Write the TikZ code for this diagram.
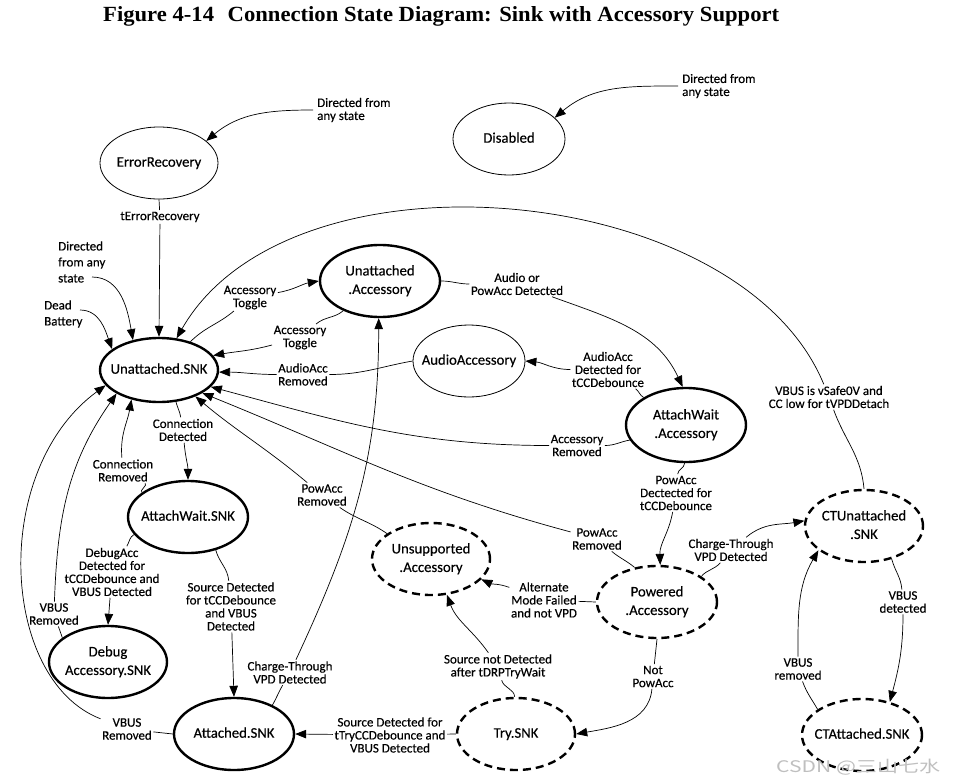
\documentclass[tikz,border=0pt]{standalone}
\usepackage{graphicx}
\usepackage{fontspec}
\setmainfont{Carlito}[FakeBold=0.35]
\newfontfamily\titlefnt{Liberation Serif}
\newfontfamily\cjkfnt{Noto Sans CJK SC}
\usetikzlibrary{shapes.geometric,arrows.meta}
\newcommand\nodefnt{\fontsize{14.7}{18.5}\selectfont}
\newcommand\lblfnt{\fontsize{13}{13}\selectfont}
\newcommand\nt[1]{\makebox[0pt]{\begin{tabular}{@{}c@{}}#1\end{tabular}}}
\tikzset{
  st/.style={ellipse, draw, line width=0.8pt, inner sep=0pt, font=\nodefnt},
  stk/.style={st, line width=2.4pt},
  std/.style={st, line width=2.4pt, dash pattern=on 8pt off 5pt},
  lbl/.style={font=\lblfnt, align=center, inner sep=1.5pt},
  note/.style={font=\lblfnt, align=left, inner ysep=0pt, inner xsep=4pt, anchor=west},
  arr/.style={line width=0.7pt, -{Triangle[length=11pt,width=8.5pt]}},
}
\begin{document}
\begin{tikzpicture}[x=1pt,y=1pt]
\useasboundingbox (0,0) rectangle (954,-782);
% title
\node[anchor=base west, inner sep=0pt] (title) at (103,-21) {\resizebox{676pt}{15pt}{\titlefnt\fontsize{19.6}{20}\selectfont\bfseries Figure 4-14\hspace{0.6em}Connection State Diagram: Sink with Accessory Support}};
% states
\node[st,  minimum width=118pt, minimum height=72pt] (ER)  at (159,-163) {\nt{ErrorRecovery}};
\node[st,  minimum width=112pt, minimum height=72pt] (DIS) at (509,-139) {\nt{Disabled}};
\node[stk, minimum width=118pt, minimum height=64pt] (US)  at (159,-370) {\nt{Unattached.SNK}};
\node[stk, minimum width=120pt, minimum height=72pt] (UA)  at (380,-281) {\nt{Unattached\\.Accessory}};
\node[st,  minimum width=112pt, minimum height=72pt] (AA)  at (469,-361) {\nt{AudioAccessory}};
\node[stk, minimum width=120pt, minimum height=74pt] (AWA) at (686,-425) {\nt{AttachWait\\.Accessory}};
\node[stk, minimum width=120pt, minimum height=72pt] (AWS) at (188,-517) {\nt{AttachWait.SNK}};
\node[stk, minimum width=118pt, minimum height=72pt] (DBG) at (108,-662) {\nt{Debug\\Accessory.SNK}};
\node[stk, minimum width=120pt, minimum height=72pt] (ATS) at (234,-734) {\nt{Attached.SNK}};
\node[std, minimum width=118pt, minimum height=72pt] (UNS) at (431,-559) {\nt{Unsupported\\.Accessory}};
\node[std, minimum width=120pt, minimum height=72pt] (PWR) at (657,-602) {\nt{Powered\\.Accessory}};
\node[std, minimum width=118pt, minimum height=72pt] (TRY) at (516,-734) {\nt{Try.SNK}};
\node[std, minimum width=118pt, minimum height=72pt] (CTU) at (864,-526) {\nt{CTUnattached\\.SNK}};
\node[std, minimum width=120pt, minimum height=72pt] (CTA) at (862,-735) {\nt{CTAttached.SNK}};
% notes
\node[note] (n1) at (313,-110) {Directed from\\any state};
\node[note] (n2) at (678,-86) {Directed from\\any state};
\node[note, font=\fontsize{13}{16}\selectfont] (n3) at (54,-262) {Directed\\from any\\state};
\node[note, font=\fontsize{13}{16}\selectfont] (n4) at (40,-314) {Dead\\Battery};
\coordinate (c3) at (92,-277);
\coordinate (c4) at (80,-310);
% labels
\node[lbl] (lTER) at (160,-217) {tErrorRecovery};
\node[lbl] (lAT1) at (250,-297.5) {Accessory\\Toggle};
\node[lbl] (lAT2) at (300,-337.5) {Accessory\\Toggle};
\node[lbl] (lAP)  at (517,-284) {Audio or\\PowAcc Detected};
\node[lbl] (lAD)  at (608,-369.5) {AudioAcc\\Detected for\\tCCDebounce};
\node[lbl] (lAR)  at (303,-374.5) {AudioAcc\\Removed};
\node[lbl] (lACR) at (577,-445.5) {Accessory\\Removed};
\node[lbl] (lPR2) at (597,-539) {PowAcc\\Removed};
\node[lbl] (lPR1) at (322,-495) {PowAcc\\Removed};
\node[lbl] (lPD)  at (676,-493) {PowAcc\\Dectected for\\tCCDebounce};
\node[lbl] (lCT2) at (731,-550) {Charge-Through\\VPD Detected};
\node[lbl] (lAM)  at (544,-600) {Alternate\\Mode Failed\\and not VPD};
\node[lbl] (lNP)  at (653,-676.5) {Not\\PowAcc};
\node[lbl] (lSN)  at (498,-666.5) {Source not Detected\\after tDRPTryWait};
\node[lbl] (lSD2) at (390,-735) {Source Detected for\\tTryCCDebounce and\\VBUS Detected};
\node[lbl] (lCT1) at (290,-672.5) {Charge-Through\\VPD Detected};
\node[lbl] (lVR2) at (127,-729) {VBUS\\Removed};
\node[lbl] (lVR1) at (54,-614) {VBUS\\Removed};
\node[lbl] (lCR)  at (123,-470.5) {Connection\\Removed};
\node[lbl] (lCD)  at (183,-430) {Connection\\Detected};
\node[lbl] (lDA)  at (112,-572) {DebugAcc\\Detected for\\tCCDebounce and\\VBUS Detected};
\node[lbl] (lSD1) at (231,-606.5) {Source Detected\\for tCCDebounce\\and VBUS\\Detected};
\node[lbl] (lVD)  at (903,-602) {VBUS\\detected};
\node[lbl] (lVRm) at (798,-669) {VBUS\\removed};
\node[lbl] (lVS)  at (829,-397) {VBUS is vSafe0V and\\CC low for tVPDDetach};
% connectors
\draw[arr] (n1.west) to[out=180,in=40] (ER.25);
\draw[arr] (n2.west) to[out=180,in=40] (DIS.25);
\draw[arr] (ER.south) -- (lTER) -- (US.north);
\draw[arr] (c3) to[out=0,in=100] (US.131);
\draw[arr] (c4) to[out=0,in=110] (US.156);
\draw[arr] (CTU.north) to[out=95,in=-70] (lVS) .. controls (740,-180) and (290,-140) .. (US.61);
\draw[arr] (US.42) to[out=45,in=-140] (lAT1) to[out=10,in=190] (UA.west);
\draw[arr] (UA.219) to[out=220,in=40] (lAT2) to[out=195,in=10] (US.15);
\draw[arr] (UA.east) to[out=0,in=180] (lAP) to[out=-20,in=115] (AWA.95);
\draw[arr] (AWA.147) to[out=150,in=-35] (lAD) to[out=180,in=-5] (AA.east);
\draw[arr] (AA.west) to[out=190,in=0] (lAR) to[out=180,in=0] (US.-2);
\draw[arr] (AWA.195) to[out=190,in=0] (lACR) to[out=180,in=-15] (US.-18);
\draw[arr] (PWR.123) to[out=140,in=-40] (lPR2) to[out=165,in=-22] (US.-28);
\draw[arr] (UNS.150) to[out=145,in=-35] (lPR1) to[out=140,in=-40] (US.-36);
\draw[arr] (AWA.-92) to[out=-95,in=85] (lPD) to[out=-100,in=92] (PWR.85);
\draw[arr] (PWR.30) to[out=50,in=-130] (lCT2) to[out=40,in=190] (CTU.175);
\draw[arr] (PWR.west) -- (lAM) to[out=160,in=-25] (UNS.-22);
\draw[arr] (PWR.south) -- (lNP) to[out=-95,in=10] (TRY.east);
\draw[arr] (TRY.92) to[out=95,in=-75] (lSN) to[out=125,in=-70] (UNS.-66);
\draw[arr] (TRY.west) -- (lSD2) -- (ATS.east);
\draw[arr] (ATS.37) to[out=60,in=-120] (lCT1) to[out=65,in=-90] (UA.-92);
\draw[arr] (ATS.west) -- (lVR2) .. controls (0,-680) and (-10,-470) .. (US.196);
\draw[arr] (DBG.152) -- (lVR1) to[out=88,in=-125] (US.209);
\draw[arr] (AWS.152) to[out=150,in=-30] (lCR) to[out=95,in=-100] (US.227);
\draw[arr] (US.-62) to[out=-75,in=100] (lCD) to[out=-85,in=90] (AWS.north);
\draw[arr] (AWS.198) to[out=210,in=60] (lDA) -- (DBG.north);
\draw[arr] (AWS.-50) to[out=-75,in=95] (lSD1) -- (ATS.north);
\draw[arr] (CTU.-50) to[out=-75,in=95] (lVD) to[out=-90,in=75] (CTA.50);
\draw[arr] (CTA.150) to[out=120,in=-70] (lVRm) to[out=90,in=-120] (CTU.208);
% watermark
\node[anchor=base west, inner sep=0pt, text=black!25] (wm) at (776,-772) {\resizebox{164pt}{\height}{\cjkfnt\fontsize{16}{16}\selectfont CSDN @三山七水}};
\end{tikzpicture}
\end{document}
